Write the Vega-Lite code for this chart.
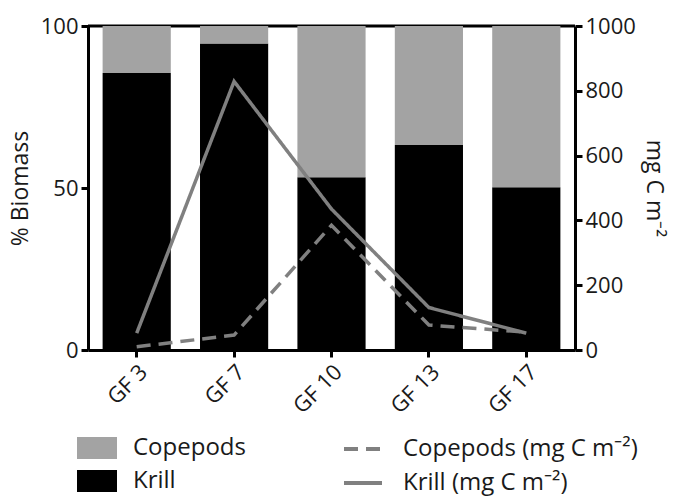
{
  "$schema": "https://vega.github.io/schema/vega-lite/v6.json",
  "width": 487,
  "height": 324,
  "autosize": {"type": "none"},
  "padding": {"left": 88, "top": 26, "right": 102, "bottom": 147},
  "datasets": {
    "pct": [
      {"site": "GF 3", "group": "Krill", "pct": 85.5},
      {"site": "GF 3", "group": "Copepods", "pct": 14.5},
      {"site": "GF 7", "group": "Krill", "pct": 94.6},
      {"site": "GF 7", "group": "Copepods", "pct": 5.4},
      {"site": "GF 10", "group": "Krill", "pct": 53.3},
      {"site": "GF 10", "group": "Copepods", "pct": 46.7},
      {"site": "GF 13", "group": "Krill", "pct": 63.3},
      {"site": "GF 13", "group": "Copepods", "pct": 36.7},
      {"site": "GF 17", "group": "Krill", "pct": 50.2},
      {"site": "GF 17", "group": "Copepods", "pct": 49.8}
    ],
    "carbon": [
      {"site": "GF 3", "series": "Copepods (mg C m⁻²)", "value": 10},
      {"site": "GF 7", "series": "Copepods (mg C m⁻²)", "value": 46},
      {"site": "GF 10", "series": "Copepods (mg C m⁻²)", "value": 385},
      {"site": "GF 13", "series": "Copepods (mg C m⁻²)", "value": 77},
      {"site": "GF 17", "series": "Copepods (mg C m⁻²)", "value": 55},
      {"site": "GF 3", "series": "Krill (mg C m⁻²)", "value": 52},
      {"site": "GF 7", "series": "Krill (mg C m⁻²)", "value": 829},
      {"site": "GF 10", "series": "Krill (mg C m⁻²)", "value": 435},
      {"site": "GF 13", "series": "Krill (mg C m⁻²)", "value": 131},
      {"site": "GF 17", "series": "Krill (mg C m⁻²)", "value": 52}
    ]
  },
  "config": {
    "view": {"stroke": null},
    "font": "Open Sans",
    "axis": {
      "grid": false,
      "domainColor": "#000000",
      "domainWidth": 3,
      "tickColor": "#000000",
      "tickWidth": 3,
      "tickSize": 7,
      "labelFontSize": 22,
      "labelColor": "#1a1a1a",
      "labelPadding": 3,
      "titleFontSize": 23,
      "titleFontWeight": "normal",
      "titleColor": "#1a1a1a"
    },
    "legend": {
      "labelFontSize": 24,
      "labelColor": "#1a1a1a",
      "labelLimit": 320,
      "padding": 0,
      "title": null
    }
  },
  "layer": [
    {
      "layer": [
        {
          "data": {"values": [{}]},
          "mark": {"type": "rule", "color": "#000000", "strokeWidth": 3},
          "encoding": {
            "y": {"datum": 100, "type": "quantitative", "scale": {"domain": [0, 100]}, "title": "% Biomass"}
          }
        },
        {
          "data": {"name": "pct"},
          "mark": {"type": "bar"},
          "encoding": {
            "x": {
              "field": "site",
              "type": "nominal",
              "sort": ["GF 3", "GF 7", "GF 10", "GF 13", "GF 17"],
              "scale": {"paddingInner": 0.3, "paddingOuter": 0.15},
              "axis": {"title": null, "labelAngle": -45, "labelPadding": 4}
            },
            "y": {
              "field": "pct",
              "type": "quantitative",
              "stack": "zero",
              "scale": {"domain": [0, 100]},
              "title": "% Biomass",
              "axis": {"values": [0, 50, 100], "titlePadding": 8}
            },
            "color": {
              "field": "group",
              "type": "nominal",
              "scale": {"domain": ["Copepods", "Krill"], "range": ["#a3a3a3", "#000000"]},
              "legend": {
                "orient": "none",
                "legendX": -11,
                "legendY": 402,
                "symbolType": "M-1,-0.55H1V0.55H-1Z",
                "symbolSize": 1600,
                "symbolStrokeWidth": 0,
                "labelOffset": 16,
                "rowPadding": 1
              }
            },
            "order": {"field": "group", "sort": "descending"}
          }
        }
      ]
    },
    {
      "data": {"name": "carbon"},
      "mark": {"type": "line", "color": "#808080", "strokeWidth": 3.5},
      "encoding": {
        "x": {"field": "site", "type": "nominal", "sort": ["GF 3", "GF 7", "GF 10", "GF 13", "GF 17"]},
        "y": {
          "field": "value",
          "type": "quantitative",
          "scale": {"domain": [0, 1000]},
          "axis": {"orient": "right", "values": [0, 200, 400, 600, 800, 1000], "format": "d", "title": "mg C m⁻²", "titlePadding": 6}
        },
        "strokeDash": {
          "field": "series",
          "type": "nominal",
          "scale": {"domain": ["Copepods (mg C m⁻²)", "Krill (mg C m⁻²)"], "range": [[14, 8], [1, 0]]},
          "legend": {
            "orient": "none",
            "legendX": 254,
            "legendY": 402,
            "symbolType": "stroke",
            "symbolSize": 1444,
            "symbolStrokeWidth": 4,
            "symbolStrokeColor": "#808080",
            "labelOffset": 19,
            "rowPadding": 1
          }
        }
      }
    }
  ],
  "resolve": {"scale": {"y": "independent"}}
}
